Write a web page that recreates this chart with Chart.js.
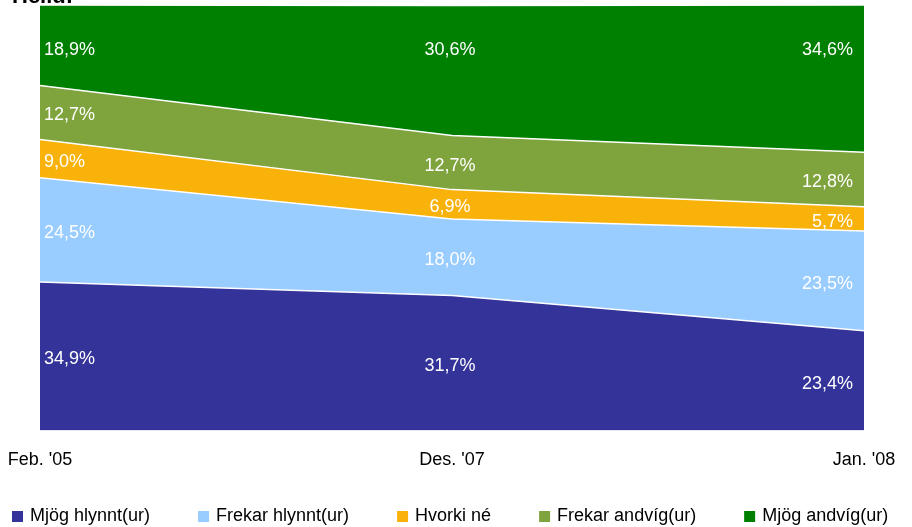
<!DOCTYPE html>
<html>
<head>
<meta charset="utf-8">
<script src="https://cdn.jsdelivr.net/npm/chart.js@4"></script>
<style>
  html, body { margin: 0; padding: 0; background: #fff; }
  #wrap { width: 912px; height: 527px; position: relative; }
</style>
</head>
<body>
<div id="wrap"><canvas id="chart"></canvas></div>
<script>
// --- DATA ---
const labels = ["Feb. '05", "Des. '07", "Jan. '08"];
const mjogHlynnt = [34.9, 31.7, 23.4];
const frekarHlynnt = [24.5, 18.0, 23.5];
const hvorki = [9.0, 6.9, 5.7];
const frekarAndvig = [12.7, 12.7, 12.8];
const mjogAndvig = [18.9, 30.6, 34.6];

const seriesNames = ["Mjög hlynnt(ur)", "Frekar hlynnt(ur)", "Hvorki né", "Frekar andvíg(ur)", "Mjög andvíg(ur)"];
const seriesData = [mjogHlynnt, frekarHlynnt, hvorki, frekarAndvig, mjogAndvig];
const colors = ["#333399", "#99CCFF", "#F9B20A", "#7FA33D", "#008000"];

const FONT = "'Liberation Sans', Arial, sans-serif";

// labels inside each band
const bandLabels = {
  id: "bandLabels",
  afterDatasetsDraw(chart) {
    const { ctx, chartArea } = chart;
    ctx.save();
    ctx.fillStyle = "#fff";
    ctx.font = "18px " + FONT;
    ctx.textBaseline = "middle";
    chart.data.datasets.forEach((ds, d) => {
      const meta = chart.getDatasetMeta(d);
      const prev = d > 0 ? chart.getDatasetMeta(d - 1) : null;
      meta.data.forEach((pt, i) => {
        const bottom = prev ? prev.data[i].y : chartArea.bottom;
        let y = (pt.y + bottom) / 2 + 3;
        if (d === chart.data.datasets.length - 1) y = chartArea.top + 45; // top band label sits near the top
        let x = pt.x;
        if (i === 0) { ctx.textAlign = "left"; x += 4; }
        else if (i === meta.data.length - 1) { ctx.textAlign = "right"; x -= 11; }
        else { ctx.textAlign = "center"; x -= 2; }
        ctx.fillText(ds.data[i].toFixed(1).replace(".", ",") + "%", x, y);
      });
    });
    ctx.restore();
  }
};

// heading (mostly cut off at the top edge) + legend row
const extras = {
  id: "extras",
  afterDraw(chart) {
    const ctx = chart.ctx;
    ctx.save();
    ctx.fillStyle = "#000";
    ctx.font = "bold 22px " + FONT;
    ctx.textAlign = "left";
    ctx.textBaseline = "alphabetic";
    ctx.fillText("Heild:", 12, 3);

    ctx.font = "18px " + FONT;
    ctx.textBaseline = "middle";
    let x = 12;
    const y = 516;
    chart.data.datasets.forEach((ds, k) => {
      ctx.fillStyle = colors[k];
      ctx.fillRect(x, y - 5, 11, 11);
      ctx.fillStyle = "#000";
      ctx.fillText(ds.label, x + 18, y);
      x += 18 + ctx.measureText(ds.label).width + 48;
    });
    ctx.restore();
  }
};

new Chart(document.getElementById("chart"), {
  type: "line",
  data: {
    labels: labels,
    datasets: seriesData.map((arr, k) => ({
      label: seriesNames[k],
      data: arr,
      backgroundColor: colors[k],
      borderColor: "#ffffff",
      borderWidth: 1.5,
      pointRadius: 0,
      fill: k === 0 ? "origin" : "-1",
      tension: 0,
    })),
  },
  options: {
    responsive: true,
    maintainAspectRatio: false,
    animation: false,
    layout: { padding: { left: 40, right: 48, top: 5, bottom: 45 } },
    scales: {
      x: {
        offset: false,
        grid: { display: false },
        border: { display: false },
        ticks: { color: "#000", font: { size: 18, family: FONT }, padding: 11, maxRotation: 0 },
        afterFit(scale) {
          // edge labels may overhang the plot area
          scale.paddingLeft = 0;
          scale.paddingRight = 0;
        },
      },
      y: {
        stacked: true,
        display: false,
        min: 0,
        max: 100,
      },
    },
    plugins: {
      tooltip: { enabled: false },
      legend: { display: false },
    },
  },
  plugins: [bandLabels, extras],
});
</script>
</body>
</html>
